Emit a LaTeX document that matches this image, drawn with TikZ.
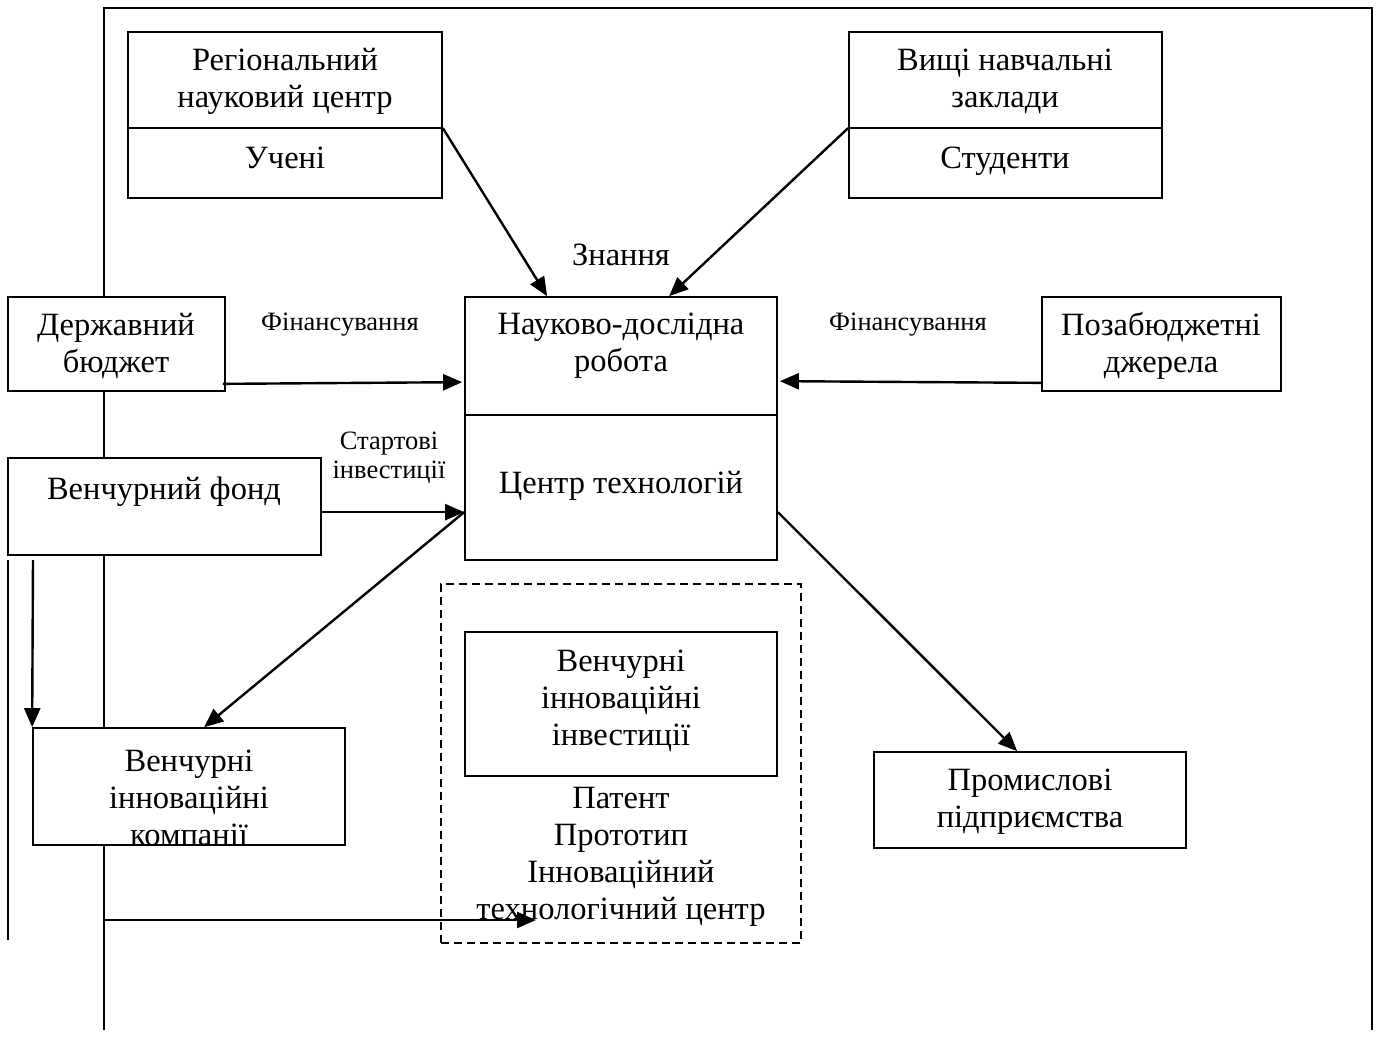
\documentclass[tikz,border=0pt]{standalone}
\usepackage{fontspec}
\setmainfont{Liberation Serif}
\usetikzlibrary{arrows.meta,calc,fit}
\begin{document}
\begin{tikzpicture}[x=1pt,y=-1pt,
  box/.style={draw,line width=1.7pt,fill=white,inner sep=0pt},
  dbox/.style={draw,line width=1.6pt,dash pattern=on 8pt off 5pt,inner sep=0pt},
  frame/.style={line width=1.7pt},
  arr/.style={line width=2.4pt,-{Triangle[length=19pt,width=16pt]}},
  txt/.style={font=\fontsize{32.5}{37}\selectfont,align=center,inner sep=0pt},
  small/.style={font=\fontsize{26.5}{29}\selectfont,align=center,inner sep=0pt}]
\useasboundingbox (0,0) rectangle (1381,1037);
% outer frame lines
\coordinate (ftl) at (104,8);
\coordinate (ftr) at (1372,8);
\coordinate (fbr) at (1372,1030);
\coordinate (fbl) at (104,1030);
\draw[frame] (fbl) -- (ftl) -- (ftr) -- (fbr);
\coordinate (l1) at (8,560);
\coordinate (l2) at (8,940);
\draw[frame] (l1) -- (l2);
% boxes
\node[box,fit={(128,32)(442,198)}] (reg) {};
\draw[frame] (128,128) -- (442,128);
\node[box,fit={(849,32)(1162,198)}] (vnz) {};
\draw[frame] (849,128) -- (1162,128);
\node[box,fit={(8,297)(225,391)}] (db) {};
\node[box,fit={(465,297)(777,560)}] (nir) {};
\draw[frame] (465,415) -- (777,415);
\node[box,fit={(1042,297)(1281,391)}] (pd) {};
\node[box,fit={(8,458)(321,555)}] (vf) {};
\node[box,fit={(33,728)(345,845)}] (vik) {};
\node[dbox,fit={(441,584)(801,943)}] (dash) {};
\node[box,fit={(465,632)(777,776)}] (vii) {};
\node[box,fit={(874,752)(1186,848)}] (pp) {};
% texts
\node[txt] at (285,81) {Регіональний\\науковий центр};
\node[txt] at (285,158) {Учені};
\node[txt] at (1005,81) {Вищі навчальні\\заклади};
\node[txt] at (1005,161) {Студенти};
\node[txt] at (116,346) {Державний\\бюджет};
\node[txt] at (621,346) {Науково-дослідна\\робота};
\node[txt] at (621,486) {Центр технологій};
\node[txt] at (1161,346) {Позабюджетні\\джерела};
\node[txt] at (164,492) {Венчурний фонд};
\node[txt] at (189,798) {Венчурні\\інноваційні\\компанії};
\node[txt] at (621,701) {Венчурні\\інноваційні\\інвестиції};
\node[txt] at (621,857) {Патент\\Прототип\\Інноваційний\\технологічний центр};
\node[txt] at (1030,802) {Промислові\\підприємства};
\node[txt] at (621,255) {Знання};
\node[small] (f1) at (340,325) {Фінансування};
\node[small] (f2) at (908,325) {Фінансування};
\node[small] (si) at (389,458) {Стартові\\інвестиції};
% connectors
\draw[arr] ($(reg.north east)!0.578!(reg.south east)$) -- ($(nir.north west)+(83,0)$);
\draw[arr] ($(vnz.north west)!0.578!(vnz.south west)$) -- ($(nir.north west)+(205,0)$);
\draw[arr] ($(db.south east)+(-3,-8)$) -- ($(nir.north west)+(-2,86)$);
\draw[arr] ($(pd.south west)+(0,-9)$) -- ($(nir.north east)+(2,85)$);
\draw[arr] ($(vf.north east)+(0,55)$) -- ($(nir.north west)+(0,216)$);
\draw[arr] ($(nir.north west)+(0,216)$) -- ($(vik.north west)+(172,0)$);
\draw[arr] ($(nir.north east)+(0,216)$) -- ($(pp.north west)+(144,0)$);
\coordinate (a1) at (33,560);
\draw[arr] (a1) -- (vik.north west);
\coordinate (a2) at (104,920);
\coordinate (a3) at (536,920);
\draw[arr] (a2) -- (a3);
\end{tikzpicture}
\end{document}
